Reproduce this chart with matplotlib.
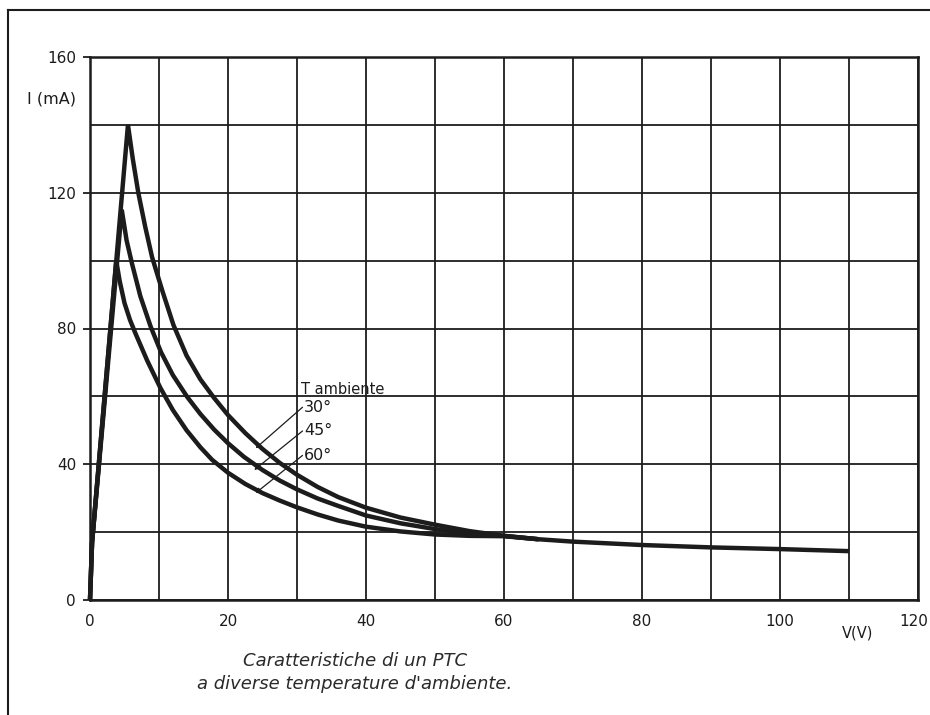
import matplotlib
matplotlib.use("Agg")
import matplotlib.pyplot as plt
import matplotlib.transforms as mtransforms
from matplotlib.lines import Line2D

# ---- data ----
v_30 = [0, 0.3, 5.5, 6.2, 7.0, 8.0, 9.0, 10.5, 12.1, 14, 16, 18, 20, 22.5, 25, 27.5, 30, 33, 36, 40,
        45, 50, 55, 60, 65, 70, 80, 90, 100, 110]
i_30 = [0, 17, 140, 130, 120, 110, 101, 91, 81, 72, 65, 59.5, 54.5, 49.2, 44.5, 40.4, 36.9, 33.3, 30.3, 27.2,
        24.3, 22.2, 20.3, 18.9, 17.9, 17.2, 16.2, 15.5, 15.0, 14.4]

v_45 = [0, 0.3, 4.6, 5.3, 6.1, 7.3, 8.8, 10.3, 12, 14.1, 16, 18, 20, 22.3, 25, 27.5, 30, 33, 36, 40,
        45, 50, 55, 60, 65]
i_45 = [0, 17, 115, 106, 99, 89.5, 80.5, 73, 66.3, 59.8, 54.8, 50.2, 46.2, 42.2, 38.3, 35.2, 32.6, 29.9, 27.7, 24.9,
        22.6, 20.9, 19.7, 18.9, 17.9]

v_60 = [0, 0.3, 3.8, 4.3, 5.0, 5.8, 6.6, 8.3, 10.2, 12, 14, 16, 17.7, 20, 22.5, 25, 27.5, 30, 33, 36, 40,
        45, 50, 55, 60, 65]
i_60 = [0, 17, 100, 94, 87.5, 82.5, 78.5, 70.5, 62.5, 56, 50, 45, 41.3, 37.5, 34.2, 31.5, 29.3, 27.3, 25.2, 23.4, 21.6,
        20.2, 19.3, 18.9, 18.8, 17.9]

x_ticks = [0, 20, 40, 60, 80, 100, 120]
y_ticks = [0, 40, 80, 120, 160]
temps = ["30°", "45°", "60°"]

ink = "#1c1c1c"

fig = plt.figure(figsize=(9.3, 7.15), dpi=100)
fig.patch.set_facecolor("white")
ax = fig.add_axes([90 / 930, 1 - 600 / 715, (918 - 90) / 930, (600 - 57) / 715])

ax.set_xlim(0, 120)
ax.set_ylim(0, 160)

ax.set_xticks(x_ticks)
ax.set_xticks(range(0, 121, 10), minor=True)
ax.set_yticks(y_ticks)
ax.set_yticks(range(0, 161, 20), minor=True)
ax.grid(True, which="both", color=ink, linewidth=1.3)
ax.set_axisbelow(True)
for s in ax.spines.values():
    s.set_color(ink)
    s.set_linewidth(1.8)

ax.tick_params(axis="x", which="both", length=0, pad=10, labelsize=11, colors=ink)
ax.tick_params(axis="y", which="major", length=5, width=1.3, pad=5, labelsize=11, colors=ink)
ax.tick_params(axis="y", which="minor", length=0)
ax.set_xticklabels([str(t) for t in x_ticks])
ax.set_yticklabels([str(t) for t in y_ticks])

# nudge the last x label so it stays inside the figure edge
last = ax.get_xticklabels()[-1]
last.set_transform(last.get_transform() + mtransforms.ScaledTranslation(-4 / 100, 0, fig.dpi_scale_trans))

lw = 3.2
for v, i in [(v_30, i_30), (v_45, i_45), (v_60, i_60)]:
    ax.plot(v, i, color=ink, linewidth=lw, solid_joinstyle="miter", solid_capstyle="butt",
            clip_on=False, zorder=3)

# axis labels
ax.text(-5.6, 147.5, "I (mA)", ha="center", va="center", fontsize=11.5, color=ink)
ax.text(111.2, -9.7, "V(V)", ha="center", va="center", fontsize=10.5, color=ink)

# legend-like annotation
ax.text(30.6, 62, "T ambiente", ha="left", va="center", fontsize=10.5, color=ink)
label_y = [56.8, 49.8, 42.6]
tips = [(24.0, 44.7), (23.8, 38.3), (24.0, 31.5)]
for t, ly, tip in zip(temps, label_y, tips):
    ax.text(31.0, ly, t, ha="left", va="center", fontsize=11.5, color=ink)
    ax.annotate("", xy=tip, xytext=(30.8, ly),
                arrowprops=dict(arrowstyle="-|>", color=ink, lw=0.9,
                                mutation_scale=7, shrinkA=0, shrinkB=0), zorder=4)

# caption
fig.text(355 / 930, 1 - 661 / 715, "Caratteristiche di un PTC", ha="center", va="center",
         fontsize=13, style="italic", color="#2a2a2a")
fig.text(355 / 930, 1 - 684 / 715, "a diverse temperature d'ambiente.", ha="center", va="center",
         fontsize=13, style="italic", color="#2a2a2a")

# page frame
fig.add_artist(Line2D([8 / 930, 8 / 930], [0, 1 - 10 / 715], color=ink, linewidth=1.5))
fig.add_artist(Line2D([8 / 930, 1], [1 - 10 / 715, 1 - 10 / 715], color=ink, linewidth=1.5))

fig.savefig("out.png", dpi=100, facecolor="white")
